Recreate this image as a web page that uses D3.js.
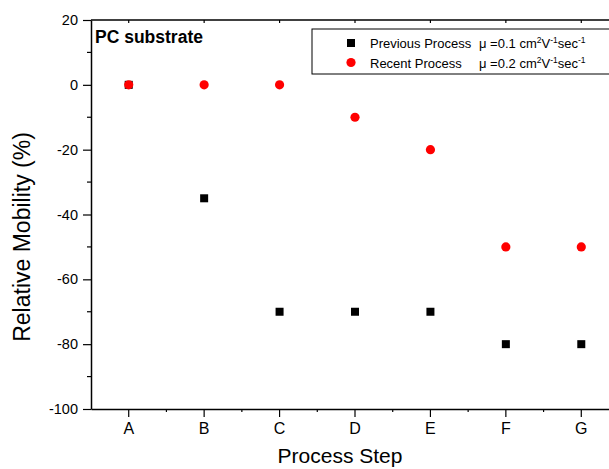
<!DOCTYPE html>
<html>
<head>
<meta charset="utf-8">
<script src="https://cdn.jsdelivr.net/npm/d3@7"></script>
<style>
  body { margin: 0; background: #fff; }
  svg { display: block; font-family: Arial, "Liberation Sans", Helvetica, sans-serif; }
</style>
</head>
<body>
<div id="chart"></div>
<script>
// chart data
var steps = ["A", "B", "C", "D", "E", "F", "G"];
var previousValues = [0, -35, -70, -70, -70, -80, -80];
var recentValues = [0, 0, 0, -10, -20, -50, -50];
var yTicks = [-100, -80, -60, -40, -20, 0, 20];
var yMinorTicks = [-90, -70, -50, -30, -10, 10];

var svgWidth = 609;
var svgHeight = 469;

var margin = { top: 20, left: 91 };
var plotWidth = 528;   // frame runs past the right edge of the picture
var plotHeight = 389;

var svg = d3.select("#chart")
  .append("svg")
  .attr("width", svgWidth)
  .attr("height", svgHeight);

var chartGroup = svg.append("g")
  .attr("transform", `translate(${margin.left}, ${margin.top})`);

// scales
var xScale = d3.scaleBand()
  .domain(steps)
  .range([0, plotWidth])
  .padding(0);

var yScale = d3.scaleLinear()
  .domain([-100, 20])
  .range([plotHeight, 0]);

var xCenter = d => xScale(d) + xScale.bandwidth() / 2;
var xBounds = steps.slice(1).map(d => xScale(d));

// frame: top line with inward ticks
chartGroup.append("line")
  .attr("x1", 0).attr("x2", plotWidth)
  .attr("y1", 0).attr("y2", 0)
  .attr("stroke", "#000").attr("stroke-width", 1.5);

chartGroup.selectAll(".top-tick")
  .data(steps)
  .enter()
  .append("line")
  .attr("x1", xCenter).attr("x2", xCenter)
  .attr("y1", 0).attr("y2", 3)
  .attr("stroke", "#000").attr("stroke-width", 1.2);

// bottom axis
var bottomAxis = d3.axisBottom(xScale)
  .tickSize(8)
  .tickSizeOuter(0)
  .tickPadding(6);

var xAxisG = chartGroup.append("g")
  .attr("transform", `translate(0, ${plotHeight})`)
  .call(bottomAxis);

xAxisG.select(".domain").attr("stroke-width", 1.5);
xAxisG.selectAll(".tick line").attr("stroke-width", 1.2);
xAxisG.selectAll(".tick text")
  .attr("font-size", "16px")
  .attr("fill", "#000");

xAxisG.selectAll(".minor")
  .data(xBounds)
  .enter()
  .append("line")
  .attr("x1", d => d).attr("x2", d => d)
  .attr("y1", 0).attr("y2", 3)
  .attr("stroke", "#000").attr("stroke-width", 1.2);

// left axis (plain hyphen minus, like the original)
var leftAxis = d3.axisLeft(yScale)
  .tickValues(yTicks)
  .tickFormat(d => String(d))
  .tickSize(8)
  .tickSizeOuter(0)
  .tickPadding(5);

var yAxisG = chartGroup.append("g")
  .call(leftAxis);

yAxisG.select(".domain").attr("stroke-width", 1.5);
yAxisG.selectAll(".tick line").attr("stroke-width", 1.2);
yAxisG.selectAll(".tick text")
  .attr("font-size", "14.5px")
  .attr("fill", "#000");

yAxisG.selectAll(".minor")
  .data(yMinorTicks)
  .enter()
  .append("line")
  .attr("x1", -4).attr("x2", 0)
  .attr("y1", d => yScale(d)).attr("y2", d => yScale(d))
  .attr("stroke", "#000").attr("stroke-width", 1.2);

// points
chartGroup.selectAll(".prev")
  .data(previousValues)
  .enter()
  .append("rect")
  .attr("x", (d, i) => xCenter(steps[i]) - 4)
  .attr("y", d => yScale(d) - 4)
  .attr("width", 8)
  .attr("height", 8)
  .attr("fill", "#000");

chartGroup.selectAll(".recent")
  .data(recentValues)
  .enter()
  .append("circle")
  .attr("cx", (d, i) => xCenter(steps[i]))
  .attr("cy", d => yScale(d))
  .attr("r", 4.6)
  .attr("fill", "#ff0000");

// panel label
chartGroup.append("text")
  .attr("x", 4)
  .attr("y", 22.5)
  .attr("font-size", "17.5px")
  .attr("font-weight", "bold")
  .text("PC substrate");

// legend
var legend = svg.append("g")
  .attr("transform", "translate(312, 29)");

legend.append("rect")
  .attr("x", 0).attr("y", 0)
  .attr("width", 310).attr("height", 45)
  .attr("fill", "#fff")
  .attr("stroke", "#000")
  .attr("stroke-width", 1);

legend.append("rect")
  .attr("x", 35).attr("y", 10)
  .attr("width", 8).attr("height", 8)
  .attr("fill", "#000");

legend.append("circle")
  .attr("cx", 39).attr("cy", 33.5)
  .attr("r", 4.6)
  .attr("fill", "#ff0000");

var legendNames = ["Previous Process", "Recent Process"];
var legendMu = ["0.1", "0.2"];

legendNames.forEach(function(name, i) {
  var yBase = 18.5 + i * 20;
  legend.append("text")
    .attr("x", 58).attr("y", yBase)
    .attr("font-size", "13px")
    .text(name);

  var t = legend.append("text")
    .attr("x", 167).attr("y", yBase)
    .attr("font-size", "13px");
  t.append("tspan").text("\u03bc =" + legendMu[i] + " cm");
  t.append("tspan").attr("dy", -5).attr("font-size", "8.5px").text("2");
  t.append("tspan").attr("dy", 5).text("V");
  t.append("tspan").attr("dy", -5).attr("font-size", "8.5px").text("-1");
  t.append("tspan").attr("dy", 5).text("sec");
  t.append("tspan").attr("dy", -5).attr("font-size", "8.5px").text("-1");
});

// axis titles
svg.append("text")
  .attr("x", 340)
  .attr("y", 463)
  .attr("text-anchor", "middle")
  .attr("font-size", "21px")
  .text("Process Step");

svg.append("text")
  .attr("transform", "translate(30, 237) rotate(-90)")
  .attr("text-anchor", "middle")
  .attr("font-size", "23px")
  .text("Relative Mobility (%)");
</script>
</body>
</html>
